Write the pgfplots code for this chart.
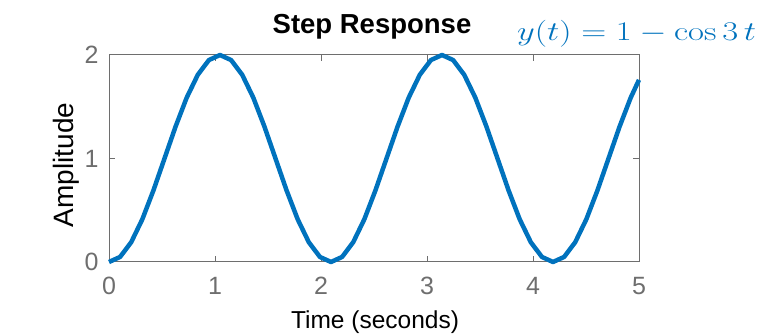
\documentclass[border=0pt]{standalone}
\usepackage[no-math]{fontspec}
\setmainfont{Liberation Sans}
\usepackage{graphicx}
\usepackage{pgfplots}
\pgfplotsset{compat=1.18}
\usetikzlibrary{calc}
\definecolor{mblue}{RGB}{0,114,189}
\definecolor{axgray}{RGB}{110,110,110}

\begin{document}
\begin{tikzpicture}[x=1pt,y=1pt]
\useasboundingbox (0,0) rectangle (777,334);
\begin{axis}[
  at={(109pt,72pt)}, anchor=south west,
  scale only axis, width=530pt, height=207pt,
  xmin=0, xmax=5, ymin=0, ymax=2,
  xtick={0,1,2,3,4,5}, ytick={0,1,2},
  tick align=inside, major tick length=6pt,
  axis line style={axgray, line width=1pt},
  every tick/.style={axgray, line width=1pt},
  tick label style={axgray, font=\fontsize{25}{28}\selectfont},
  /pgf/number format/assume math mode=true,
  xticklabel style={yshift=-12pt},
  yticklabel style={xshift=-7pt},
  title={\textbf{Step Response}},
  title style={font=\fontsize{27.5}{32}\selectfont, inner sep=0pt,
    at={($(axis description cs:0.5,1)+(-2pt,15pt)$)}, anchor=base},
  xlabel={Time (seconds)},
  xlabel style={font=\fontsize{24.5}{28}\selectfont, black, inner sep=0pt,
    at={($(axis description cs:0.5,0)+(1pt,-67pt)$)}, anchor=base},
  ylabel={Amplitude},
  ylabel style={font=\fontsize{28}{32}\selectfont, black, inner sep=0pt,
    at={($(axis description cs:0,0.5)+(-36pt,-6.5pt)$)}, anchor=base, rotate=0},
  clip=false,
]
\addplot[mblue, line width=4.5pt, line join=round] coordinates {
(0.0000,0.000000) (0.1047,0.048943) (0.2094,0.190983) (0.3142,0.412215)
(0.4189,0.690983) (0.5236,1.000000) (0.6283,1.309017) (0.7330,1.587785)
(0.8378,1.809017) (0.9425,1.951057) (1.0472,2.000000) (1.1519,1.951057)
(1.2566,1.809017) (1.3614,1.587785) (1.4661,1.309017) (1.5708,1.000000)
(1.6755,0.690983) (1.7802,0.412215) (1.8850,0.190983) (1.9897,0.048943)
(2.0944,0.000000) (2.1991,0.048943) (2.3038,0.190983) (2.4086,0.412215)
(2.5133,0.690983) (2.6180,1.000000) (2.7227,1.309017) (2.8274,1.587785)
(2.9322,1.809017) (3.0369,1.951057) (3.1416,2.000000) (3.2463,1.951057)
(3.3510,1.809017) (3.4558,1.587785) (3.5605,1.309017) (3.6652,1.000000)
(3.7699,0.690983) (3.8746,0.412215) (3.9794,0.190983) (4.0841,0.048943)
(4.1888,0.000000) (4.2935,0.048943) (4.3982,0.190983) (4.5029,0.412215)
(4.6077,0.690983) (4.7124,1.000000) (4.8171,1.309017) (4.9218,1.587785)
(5.0000,1.759687)
};
\end{axis}
\node[anchor=base west, text=mblue, inner sep=0pt] at (517,293)
  {\scalebox{1.67}[1.3]{\fontsize{20.74}{25}\selectfont$y(t)=1-\cos 3\,t$}};
\end{tikzpicture}
\end{document}
